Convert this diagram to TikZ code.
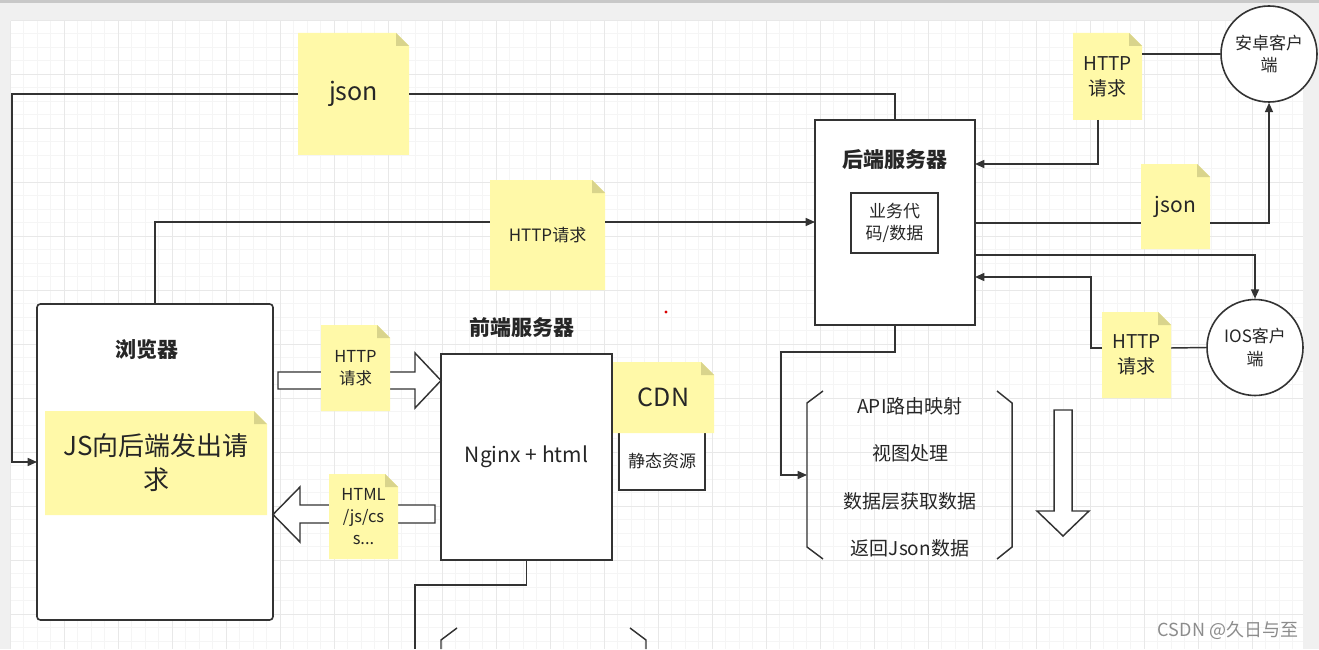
\documentclass[tikz,border=0pt]{standalone}
\usepackage{fontspec}
\setmainfont{Noto Sans CJK SC}
\usetikzlibrary{arrows.meta,calc}
\definecolor{ln}{HTML}{333333}
\definecolor{txt}{HTML}{262626}
\definecolor{notey}{HTML}{FFF9A8}
\definecolor{notefold}{HTML}{D9D48C}
\definecolor{outer}{HTML}{F0F0F0}
\definecolor{topbar}{HTML}{C8C8C8}
\definecolor{gminor}{HTML}{F5F5F5}
\definecolor{gmajor}{HTML}{E8E8E8}
\newcommand\fpx[1]{\fontsize{\fpeval{#1*0.75}pt}{\fpeval{#1*0.98}pt}\selectfont}
\newcommand\stickynote[7]{%
  \fill[notey] (#2,#3) -- ({#4-13},#3) -- (#4,{#3+13}) -- (#4,#5) -- (#2,#5) -- cycle;
  \fill[notefold] ({#4-13},#3) -- (#4,{#3+13}) -- ({#4-13},{#3+13}) -- cycle;
  \node[notetext, minimum width={(#4-#2)*0.75pt}, minimum height={(#5-#3)*0.75pt}, font=\fpx{#6}] (#1) at ({(#2+#4)/2},{(#3+#5)/2}) {#7};%
}
\tikzset{
  notetext/.style={inner sep=0pt, outer sep=0pt, align=center, text=txt},
  conn/.style={draw=ln, line width=1.1pt},
  arr/.style={conn, -{Triangle[length=7pt,width=6pt]}},
  box/.style={draw=ln, line width=1.2pt, fill=white, inner sep=0pt, outer sep=0pt, text=txt, align=center},
  blockarrow/.style={draw=ln, line width=1.1pt, fill=white, line join=miter},
  title/.style={text=txt, font=\fpx{21}\bfseries, inner sep=0pt},
  plain/.style={text=txt, inner sep=0pt, align=center},
  client/.style={circle, draw=ln, line width=1.2pt, fill=white, minimum size=72pt, inner sep=0pt, align=center, text=txt, font=\fpx{17}}
}
\begin{document}
\begin{tikzpicture}[x=0.75pt,y=-0.75pt]
\useasboundingbox (0,0) rectangle (1319,649);
% background and grid
\fill[outer] (0,0) rectangle (1319,649);
\fill[topbar] (0,0) rectangle (1319,3);
\fill[white] (11,21) rectangle (1303,649);
\foreach \i in {0,...,95} {\draw[gminor, line width=0.6pt] ({10+\i*13.5},21) -- ({10+\i*13.5},649);}
\foreach \j in {0,...,46} {\draw[gminor, line width=0.6pt] (11,{20+\j*13.5}) -- (1303,{20+\j*13.5});}
\foreach \i in {0,...,23} {\draw[gmajor, line width=0.7pt] ({10+\i*54},21) -- ({10+\i*54},649);}
\foreach \j in {0,...,11} {\draw[gmajor, line width=0.7pt] (11,{20+\j*54}) -- (1303,{20+\j*54});}

% browser
\node[box, rounded corners=2.5pt, minimum width={236*0.75pt}, minimum height={316*0.75pt}] (browser) at (155,462) {};
\node[title] (browsertitle) at (147,350) {浏览器};
\stickynote{jsnote}{45}{411}{267}{515}{26}{JS向后端发出请\\求}

% frontend
\node[title] (fronttitle) at (522,328) {前端服务器};
\node[box, minimum width={171*0.75pt}, minimum height={206*0.75pt}, font=\fpx{21}] (front) at (526.5,457) {Nginx + html};
\node[box, minimum width={86*0.75pt}, minimum height={70*0.75pt}] (cdnbox) at (662,455) {};
\node[plain, font=\fpx{17}] (cdntext) at (662,461) {静态资源};
\stickynote{cdn}{613}{362}{714}{433}{25}{CDN}

% block arrows
\draw[blockarrow] (278,372) -- (415,372) -- (415,353) -- (441,380.5) -- (415,408) -- (415,389) -- (278,389) -- cycle;
\draw[blockarrow] (435,505) -- (300,505) -- (300,487) -- (273,514.5) -- (300,542) -- (300,523) -- (435,523) -- cycle;
\draw[blockarrow] (1054,410) -- (1072,410) -- (1072,511) -- (1089,511) -- (1063,536) -- (1037,511) -- (1054,511) -- cycle;
\stickynote{httpf}{321}{325}{390}{411}{16.5}{HTTP\\请求}
\stickynote{htmlf}{329}{474}{398}{559}{16.5}{HTML\\/js/cs\\s...}

% backend
\node[box, minimum width={160*0.75pt}, minimum height={205*0.75pt}] (backend) at (895,222.5) {};
\node[title] (backtitle) at (895,160) {后端服务器};
\node[box, line width=1.1pt, minimum width={87*0.75pt}, minimum height={60*0.75pt}, font=\fpx{17}] (biz) at (894.5,223) {业务代\\码/数据};

% api steps
\node[inner sep=0pt, outer sep=0pt, minimum width={205*0.75pt}, minimum height={168*0.75pt}] (api) at (909.5,475) {};
\draw[conn] (823,391) -- (api.west |- 0,403) -- (api.west |- 0,547) -- (823,559);
\draw[conn] (997,391) -- (api.east |- 0,403) -- (api.east |- 0,547) -- (997,559);
\node[plain, font=\fpx{19}] (s1) at (910,406) {API路由映射};
\node[plain, font=\fpx{19}] (s2) at (910,453) {视图处理};
\node[plain, font=\fpx{19}] (s3) at (910,501) {数据层获取数据};
\node[plain, font=\fpx{19}] (s4) at (910,548) {返回Json数据};

% clients
\node[client] (android) at (1269,54) {安卓客户\\端};
\node[client] (ios) at (1255,347.5) {IOS客户\\端};

% notes on connectors
\stickynote{jsontop}{298}{33}{409}{155}{25}{json}
\stickynote{httpmid}{490}{180}{605}{290}{17}{HTTP请求}
\stickynote{httpA}{1073}{33}{1142}{120}{19}{HTTP\\请求}
\stickynote{jsonR}{1141}{164}{1210}{249}{21}{json}
\stickynote{httpI}{1102}{312}{1171}{398}{19}{HTTP\\请求}

% coordinates
\coordinate (c1) at (12,94);
\coordinate (bMid) at (815,222);
\coordinate (bA) at (975,164);
\coordinate (tA) at (1098,120);
\coordinate (bJ) at (975,223);
\coordinate (bI) at (975,255);
\coordinate (bI2) at (975,277);
\coordinate (c2) at (1091,348);
\coordinate (c3) at (781,352);
\coordinate (fb) at (415,649);

% connectors
\draw[conn] (backend.north) |- (jsontop.east |- c1);
\draw[arr] (jsontop.west |- c1) -- (c1) |- (browser.west);
\draw[conn] (browser.north) |- (httpmid.west |- bMid);
\draw[arr] (httpmid.east |- bMid) -- (bMid);
\draw[conn] (android.west) -- (httpA.east |- android.west);
\draw[arr] (tA) |- (bA);
\draw[conn] (bJ) -- (jsonR.west |- bJ);
\draw[arr] (jsonR.east |- bJ) -| (android.south);
\draw[arr] (bI) -| (ios.north);
\draw[conn] (ios.west) -- (httpI.east |- c2);
\draw[arr] (httpI.west |- c2) -- (c2) |- (bI2);
\draw[arr] (backend.south) |- (c3) |- (api.west);
\draw[conn] (front.south) |- (fb |- 0,585) -- (fb);

% partial brackets at bottom
\draw[conn] (457,628) -- (441,640) -- (441,649);
\draw[conn] (630,628) -- (646,640) -- (646,649);

% red dot
\fill[red!85!black] (666,312) circle (1.6);

% watermark
\node[text=black!45, font=\fpx{18}, inner sep=0pt] (wm) at (1228,630) {CSDN @久日与至};
\end{tikzpicture}
\end{document}
